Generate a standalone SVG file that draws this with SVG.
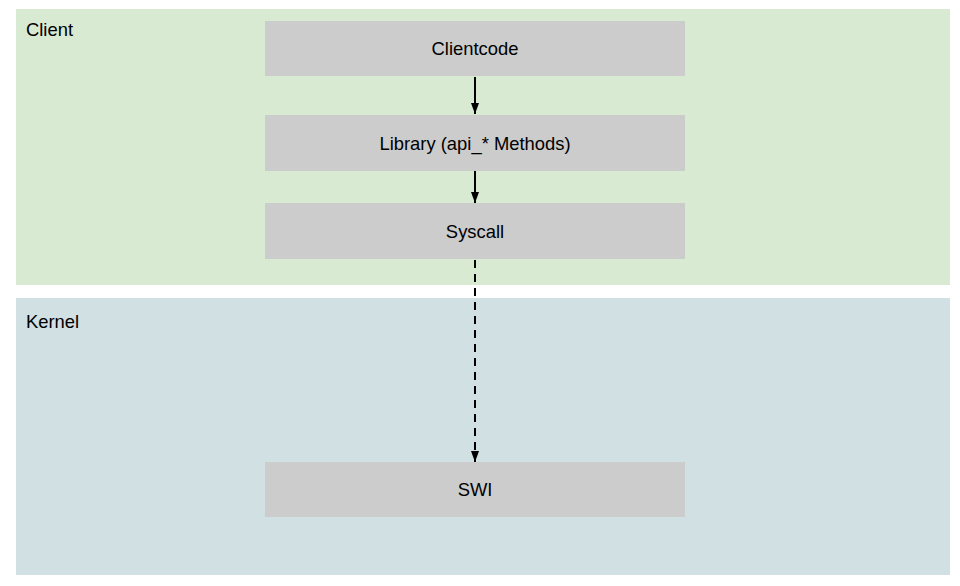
<svg xmlns="http://www.w3.org/2000/svg" width="960" height="586" viewBox="0 0 960 586">
<style>
text{font-family:"Liberation Sans",Arial,sans-serif;font-size:18.4px;fill:#000}
.node rect{fill:#cccccc}
.node text{text-anchor:middle;dominant-baseline:central}
.conn{stroke:#000;stroke-width:2;fill:none}
</style>
<defs>
<marker id="ah" viewBox="0 0 11 8" refX="11" refY="4" markerWidth="5.5" markerHeight="4" orient="auto" markerUnits="strokeWidth">
<path d="M0,0 L11,4 L0,8 z" fill="#000"/>
</marker>
</defs>
<rect width="960" height="586" fill="#fff"/>
<g id="client">
<rect x="16" y="9" width="934" height="276" fill="#d9ead3"/>
<text x="26" y="36">Client</text>
</g>
<g id="kernel">
<rect x="16" y="298" width="934" height="277" fill="#d0e0e3"/>
<text x="26" y="328">Kernel</text>
</g>
<g id="connectors">
<line class="conn" x1="475" y1="77" x2="475" y2="114" marker-end="url(#ah)"/>
<line class="conn" x1="475" y1="171" x2="475" y2="203" marker-end="url(#ah)"/>
<line class="conn" x1="475" y1="260" x2="475" y2="462" stroke-dasharray="8,6" marker-end="url(#ah)"/>
</g>
<g id="clientcode" class="node">
<rect x="265" y="21" width="420" height="55"/>
<text x="475" y="48.5">Clientcode</text>
</g>
<g id="library" class="node">
<rect x="265" y="115" width="420" height="56"/>
<text x="475" y="143">Library (api_* Methods)</text>
</g>
<g id="syscall" class="node">
<rect x="265" y="203" width="420" height="56"/>
<text x="475" y="231">Syscall</text>
</g>
<g id="swi" class="node">
<rect x="265" y="462" width="420" height="55"/>
<text x="475" y="489.5">SWI</text>
</g>
</svg>
